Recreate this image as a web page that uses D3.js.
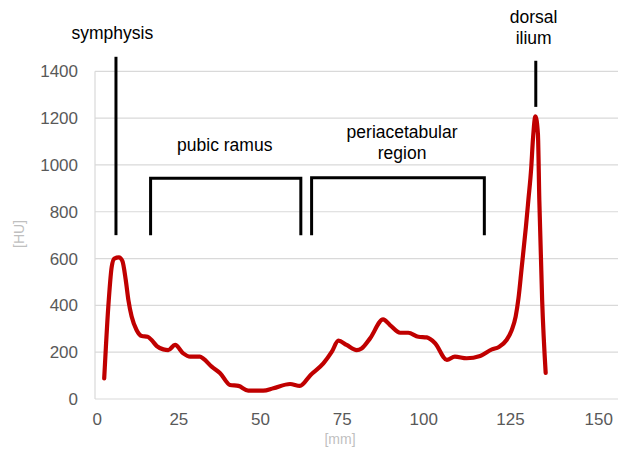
<!DOCTYPE html>
<html>
<head>
<meta charset="utf-8">
<script src="https://cdn.jsdelivr.net/npm/d3@7"></script>
<style>
  html, body { margin: 0; padding: 0; background: #fff; }
  svg { display: block; }
</style>
</head>
<body>
<svg id="chart" width="624" height="449"></svg>
<script>
// ---- data ----
const xMm = [2.3, 3.55, 4.6, 5.4, 6.8, 7.85, 8.9, 9.7, 10.7, 12.2, 13.8, 15.6, 16.8, 18.4, 20.4, 21.9, 24.0, 26.5, 28.6, 31.6, 32.6, 35.2, 37.8, 40.8, 43.4, 46.4, 51.0, 54.1, 59.2, 62.2, 65.5, 69.4, 72.0, 74.0, 76.5, 79.6, 81.1, 83.7, 87.7, 89.8, 92.9, 95.4, 98.5, 101.0, 103.4, 106.8, 109.1, 112.5, 116.4, 119.8, 121.8, 124.0, 125.5, 126.6, 127.4, 128.3, 129.5, 130.2, 131.0, 131.5, 132.2, 132.9, 133.3, 134.1, 135.1];
const hu  = [88, 394, 565, 600, 605, 590, 508, 423, 352, 295, 269, 266, 252, 226, 212, 209, 231, 195, 181, 181, 173, 138, 110, 60, 56, 36, 36, 46, 64, 56, 103, 152, 202, 249, 231, 209, 216, 259, 340, 316, 283, 283, 266, 263, 238, 167, 181, 174, 184, 212, 222, 252, 295, 352, 430, 560, 735, 850, 985, 1110, 1208, 1134, 850, 423, 112];

const yTicks = [0, 200, 400, 600, 800, 1000, 1200, 1400];
const xTicks = [0, 25, 50, 75, 100, 125, 150];

// annotations (mm / HU)
const markerLines = [
  { x: 5.9, y0: 700, y1: 1462 },      // symphysis
  { x: 132.3, y0: 1248, y1: 1445 }    // dorsal ilium
];
const brackets = [
  { x0: 16.5, x1: 62.5, yTop: 943, yBottom: 700 },   // pubic ramus
  { x0: 65.8, x1: 117.6, yTop: 945, yBottom: 700 }   // periacetabular region
];
const labels = [
  { lines: ["symphysis"], x: 4.8, y: 1563 },
  { lines: ["pubic ramus"], x: 39.2, y: 1085 },
  { lines: ["periacetabular", "region"], x: 93.5, y: 1141 },
  { lines: ["dorsal", "ilium"], x: 131.7, y: 1631 }
];

// ---- drawing ----
(function () {
const svg = d3.select("#chart");
const pL = 95, pR = 618, pT = 71.3, pB = 399;

const x = d3.scaleLinear().domain([0, 100, 125, 150]).range([96.7, 423.3, 510, 598.3]);
const y = d3.scaleLinear().domain([0, 1400]).range([pB, pT]);

// gridlines
svg.append("g").selectAll("line").data(yTicks).join("line")
  .attr("x1", pL).attr("x2", pR)
  .attr("y1", d => y(d)).attr("y2", d => y(d))
  .attr("stroke", "#d9d9d9").attr("stroke-width", 1.2);

// left axis line
svg.append("line")
  .attr("x1", pL).attr("x2", pL).attr("y1", y(1400)).attr("y2", y(0))
  .attr("stroke", "#d9d9d9").attr("stroke-width", 1.2);

const font = "Liberation Sans, Arial, sans-serif";

// y tick labels
const yAxis = d3.axisLeft(y).tickValues(yTicks).tickSize(0).tickPadding(0).tickFormat(d3.format("d"));
const gy = svg.append("g").attr("transform", `translate(${78},0)`).call(yAxis);
gy.select(".domain").remove();
gy.selectAll("text").attr("font-family", font)
  .attr("font-size", 17).attr("fill", "#595959");

// x tick labels
const xAxis = d3.axisBottom(x).tickValues(xTicks).tickSize(0).tickPadding(0).tickFormat(d3.format("d"));
const gx = svg.append("g").attr("transform", `translate(0,${413})`).call(xAxis);
gx.select(".domain").remove();
gx.selectAll("text").attr("font-family", font)
  .attr("font-size", 17).attr("fill", "#595959");

// axis titles
svg.append("text").attr("transform", "translate(24,234) rotate(-90)")
  .attr("text-anchor", "middle").attr("font-family", font)
  .attr("font-size", 14).attr("fill", "#bfbfbf").text("[HU]");
svg.append("text").attr("x", 340).attr("y", 444)
  .attr("text-anchor", "middle").attr("font-family", font)
  .attr("font-size", 14).attr("fill", "#bfbfbf").text("[mm]");

// annotation lines
svg.append("g").selectAll("line").data(markerLines).join("line")
  .attr("x1", d => x(d.x)).attr("x2", d => x(d.x))
  .attr("y1", d => y(d.y0)).attr("y2", d => y(d.y1))
  .attr("stroke", "#000").attr("stroke-width", 3);

svg.append("g").selectAll("path").data(brackets).join("path")
  .attr("d", d => `M${x(d.x0)},${y(d.yBottom)}V${y(d.yTop)}H${x(d.x1)}V${y(d.yBottom)}`)
  .attr("fill", "none").attr("stroke", "#000").attr("stroke-width", 3);

// labels
const lg = svg.append("g").selectAll("text").data(labels).join("text")
  .attr("text-anchor", "middle")
  .attr("font-family", font)
  .attr("font-size", 17.5).attr("fill", "#000")
  .attr("x", d => x(d.x)).attr("y", d => y(d.y));
lg.selectAll("tspan").data(d => d.lines.map((t, i) => ({ t, i, x: d.x }))).join("tspan")
  .attr("x", d => x(d.x)).attr("dy", d => d.i === 0 ? "0.35em" : "1.2em").text(d => d.t);

// data line
const pts = xMm.map((v, i) => [v, hu[i]]);
const line = d3.line().x(d => x(d[0])).y(d => y(d[1])).curve(d3.curveMonotoneX);
svg.append("path").datum(pts)
  .attr("d", line).attr("fill", "none")
  .attr("stroke", "#c00000").attr("stroke-width", 4.2)
  .attr("stroke-linejoin", "round").attr("stroke-linecap", "round");
})();
</script>
</body>
</html>
